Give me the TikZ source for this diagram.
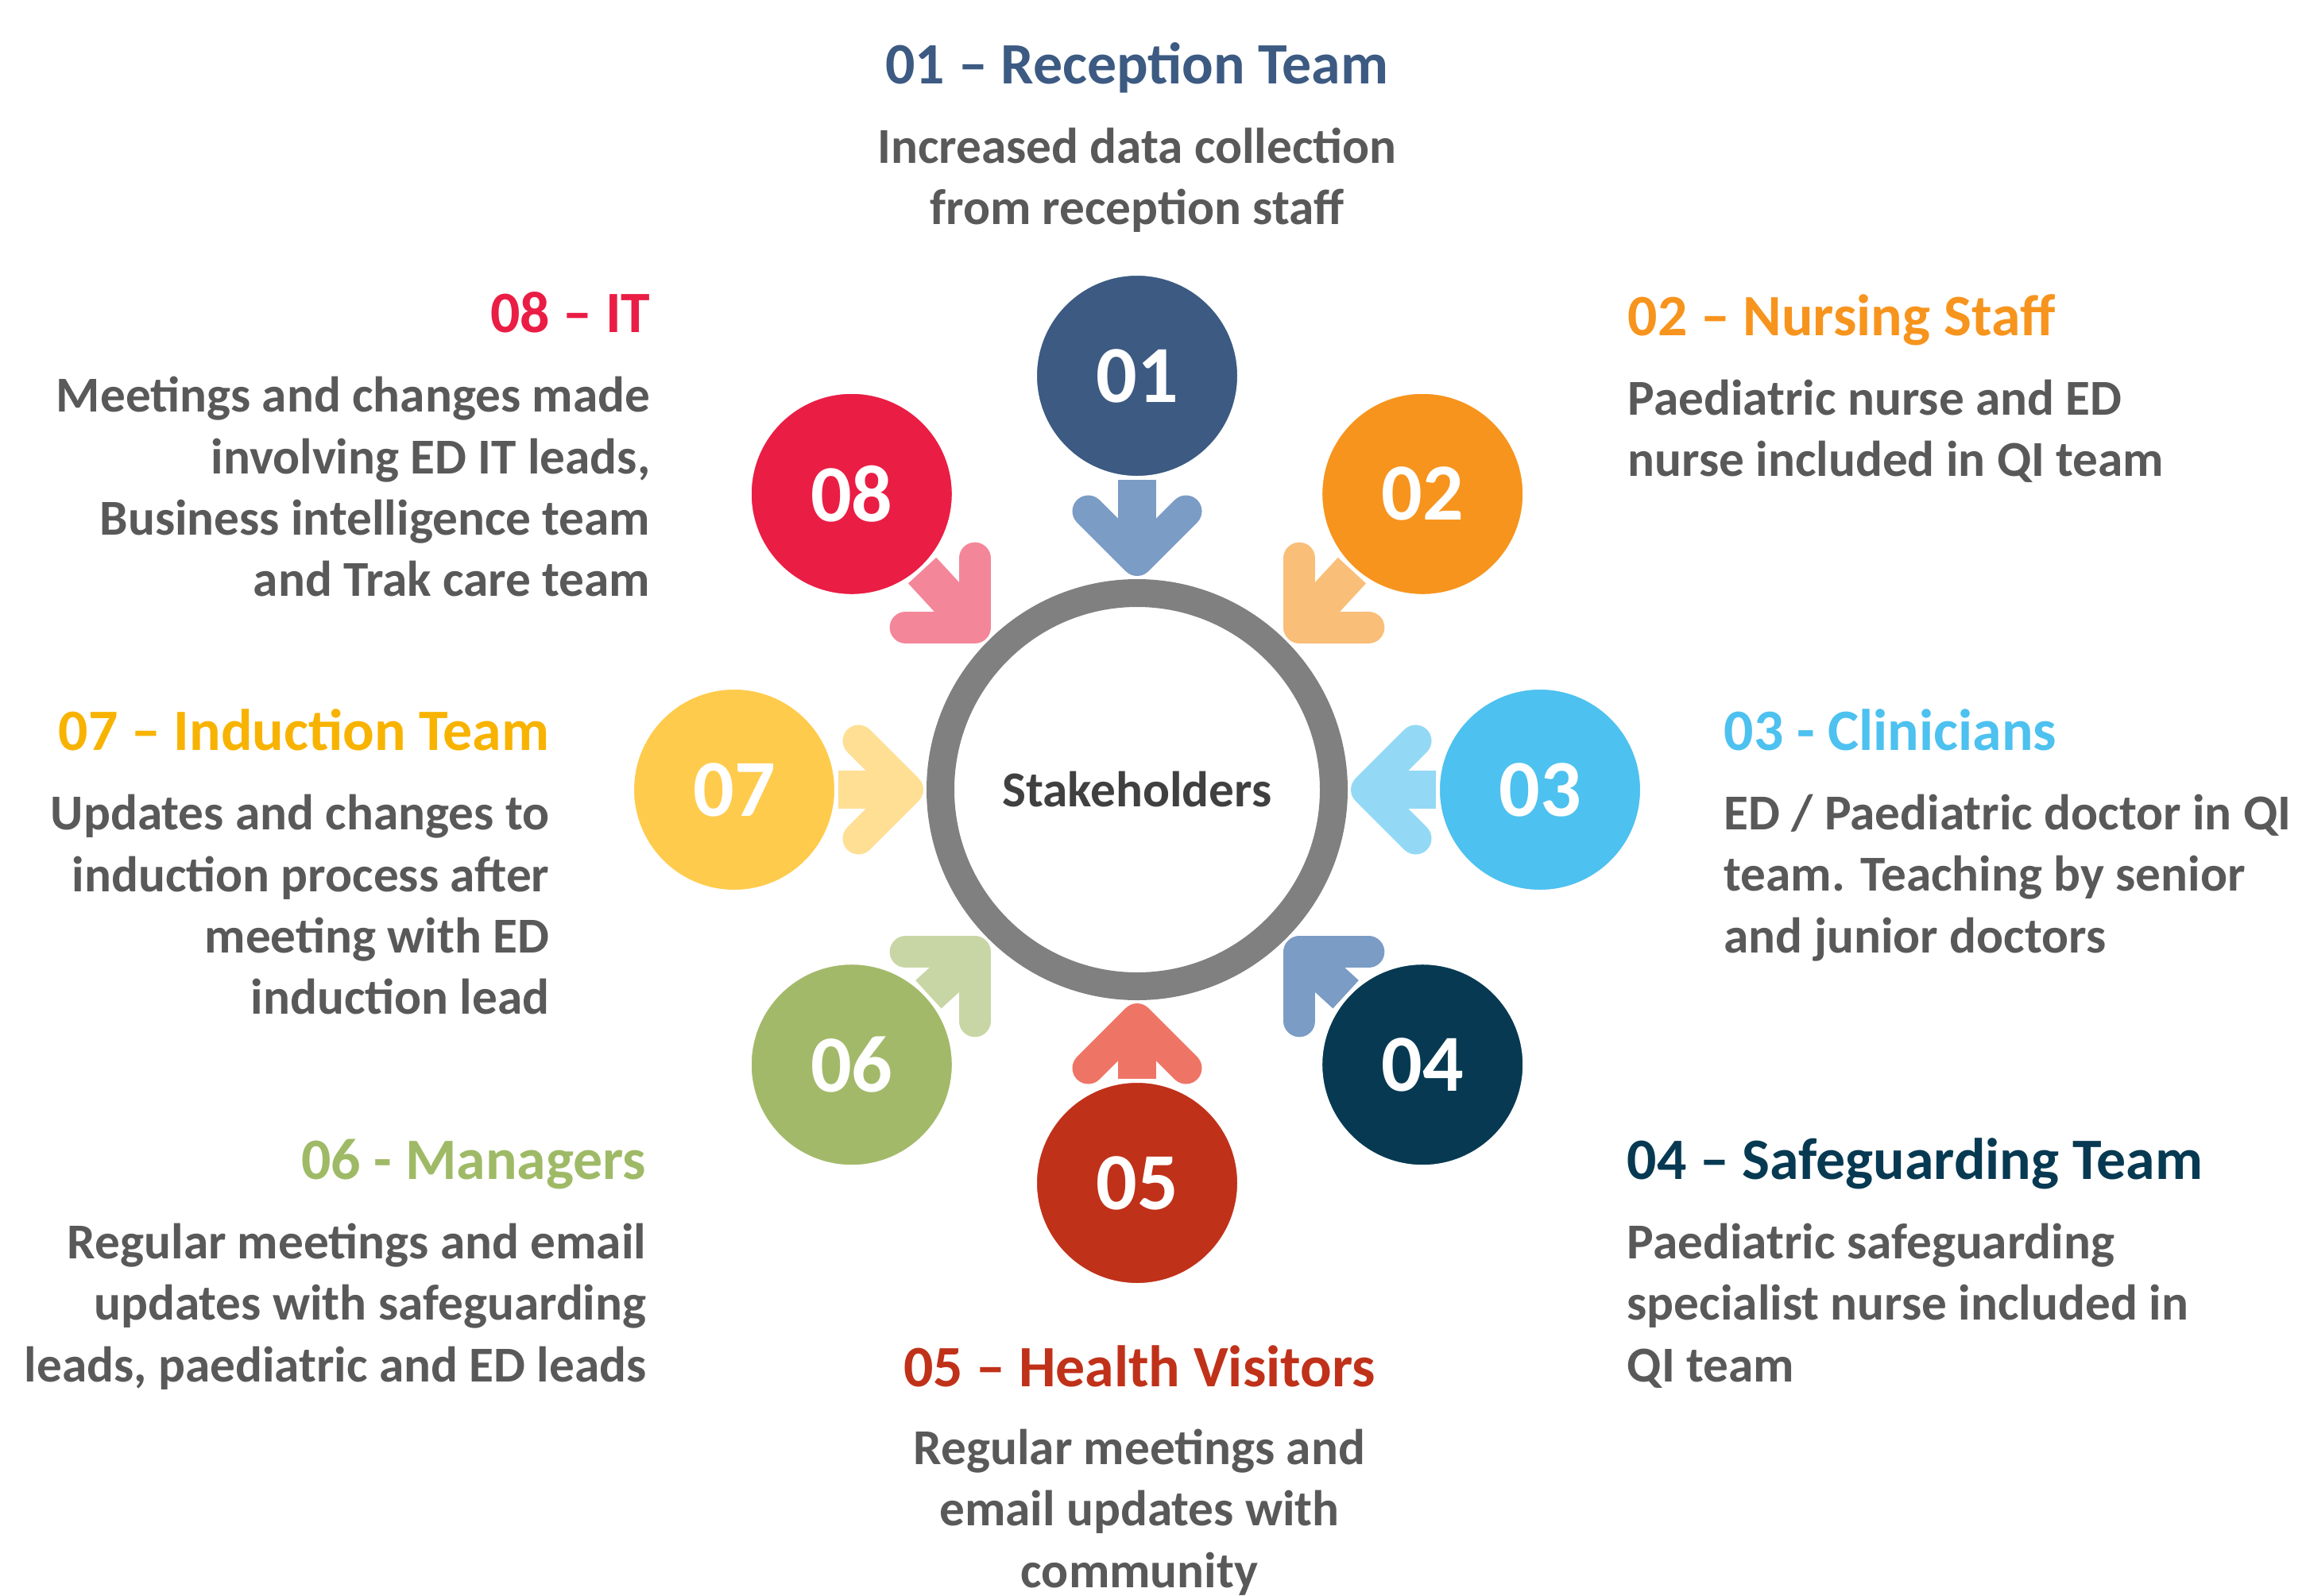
\documentclass[tikz,border=0pt]{standalone}
\usepackage{fontspec}
\setmainfont{Carlito}
\usepackage{tikz}
\usetikzlibrary{calc,positioning}

\definecolor{ringgray}{HTML}{808080}
\definecolor{txtgray}{HTML}{595959}
\definecolor{hubtext}{HTML}{404040}
\definecolor{col1}{HTML}{3C5A82}
\definecolor{col2}{HTML}{F7941D}
\definecolor{col3}{HTML}{4DC1EF}
\definecolor{col4}{HTML}{073A52}
\definecolor{col5}{HTML}{C0311A}
\definecolor{col6}{HTML}{A3B96A}
\definecolor{col7}{HTML}{FFCB4C}
\definecolor{col8}{HTML}{EA1D44}
\definecolor{arr1}{HTML}{7B9CC5}
\definecolor{arr2}{HTML}{F9BE78}
\definecolor{arr3}{HTML}{93D9F5}
\definecolor{arr4}{HTML}{7B9CC5}
\definecolor{arr5}{HTML}{EE7566}
\definecolor{arr6}{HTML}{C8D6A5}
\definecolor{arr7}{HTML}{FEDF94}
\definecolor{arr8}{HTML}{F48699}
\definecolor{ttl6}{HTML}{9FBA66}
\definecolor{ttl7}{HTML}{F8B300}

\tikzset{
  stake/.style={circle, minimum size=2.57cm, inner sep=0pt, draw=white, line width=0.05cm,
    font=\bfseries\fontsize{29}{29}\selectfont, text=white},
  ttl/.style={font=\bfseries\fontsize{21}{25}\selectfont, inner sep=0pt},
  txt/.style={font=\bfseries\fontsize{18}{22}\selectfont, text=txtgray, inner sep=0pt},
  shaft/.style={line width=0.48cm, line cap=butt},
  barbs/.style={line width=0.40cm, line cap=round, line join=round},
}

\begin{document}
\begin{tikzpicture}
    \useasboundingbox (-14.31,-10.14) rectangle (14.71,9.94);

    % centre ring
    \node[circle, draw=ringgray, line width=0.35cm, minimum size=4.95cm, inner sep=0pt,
      font=\bfseries\fontsize{18}{18}\selectfont, text=hubtext] (hub) at (0,0) {Stakeholders};

    % numbered circles
    \node[stake, fill=col1] (c1) at ([shift={(0,0.13)}]90:5.08) {01};
    \node[stake, fill=col2] (c2) at ([shift={(0,0.13)}]45:5.08) {02};
    \node[stake, fill=col3] (c3) at (5.07,0) {03};
    \node[stake, fill=col4] (c4) at ([shift={(0,0.13)}]-45:5.08) {04};
    \node[stake, fill=col5] (c5) at ([shift={(0,0.13)}]-90:5.08) {05};
    \node[stake, fill=col6] (c6) at ([shift={(0,0.13)}]-135:5.08) {06};
    \node[stake, fill=col7] (c7) at (-5.07,0) {07};
    \node[stake, fill=col8] (c8) at ([shift={(0,0.13)}]135:5.08) {08};

    % arrow tips on the ring
    \coordinate (p1) at (90:2.89);
    \coordinate (p2) at (45:2.89);
    \coordinate (p3) at (0:2.89);
    \coordinate (p4) at (-45:2.89);
    \coordinate (p5) at (-90:2.89);
    \coordinate (p6) at (-135:2.89);
    \coordinate (p7) at (180:2.89);
    \coordinate (p8) at (135:2.89);

    % arrows into the ring
    \draw[shaft, arr1] (c1) -- (p1);
    \draw[barbs, arr1] ($(p1)+(135:0.87)$) -- (p1) -- ($(p1)+(45:0.87)$);
    \draw[shaft, arr2] (c2) -- (p2);
    \draw[barbs, arr2] ($(p2)+(90:0.87)$) -- (p2) -- ($(p2)+(0:0.87)$);
    \draw[shaft, arr3] (c3) -- (p3);
    \draw[barbs, arr3] ($(p3)+(45:0.87)$) -- (p3) -- ($(p3)+(-45:0.87)$);
    \draw[shaft, arr4] (c4) -- (p4);
    \draw[barbs, arr4] ($(p4)+(0:0.87)$) -- (p4) -- ($(p4)+(-90:0.87)$);
    \draw[shaft, arr5] (c5) -- (p5);
    \draw[barbs, arr5] ($(p5)+(-45:0.87)$) -- (p5) -- ($(p5)+(-135:0.87)$);
    \draw[shaft, arr6] (c6) -- (p6);
    \draw[barbs, arr6] ($(p6)+(-90:0.87)$) -- (p6) -- ($(p6)+(180:0.87)$);
    \draw[shaft, arr7] (c7) -- (p7);
    \draw[barbs, arr7] ($(p7)+(-135:0.87)$) -- (p7) -- ($(p7)+(135:0.87)$);
    \draw[shaft, arr8] (c8) -- (p8);
    \draw[barbs, arr8] ($(p8)+(180:0.87)$) -- (p8) -- ($(p8)+(90:0.87)$);

    % 01 top
    \node[ttl, text=col1, anchor=base] (t1) at (0,8.89) {01 – Reception Team};
    \node[txt, align=center, anchor=base] (b1) at (0,7.114) {Increased data collection\\from reception staff};

    % 02 right
    \node[ttl, text=col2, anchor=base west] (t2) at (6.17,5.72) {02 – Nursing Staff};
    \node[txt, align=left, anchor=base west] (b2) at (6.17,3.944) {Paediatric nurse and ED\\nurse included in QI team};

    % 03 right
    \node[ttl, text=col3, anchor=base west] (t3) at (7.38,0.50) {03 - Clinicians};
    \node[txt, align=left, anchor=base west] (b3) at (7.38,-2.052) {ED / Paediatric doctor in QI\\team. Teaching by senior\\and junior doctors};

    % 04 right
    \node[ttl, text=col4, anchor=base west] (t4) at (6.16,-4.90) {04 – Safeguarding Team};
    \node[txt, align=left, anchor=base west] (b4) at (6.16,-7.452) {Paediatric safeguarding\\specialist nurse included in\\QI team};

    % 05 bottom
    \node[ttl, text=col5, anchor=base] (t5) at (0.03,-7.51) {05 – Health Visitors};
    \node[txt, align=center, anchor=base] (b5) at (0.03,-10.04) {Regular meetings and\\email updates with\\community};

    % 06 left
    \node[ttl, text=ttl6, anchor=base east] (t6) at (-6.17,-4.90) {06 - Managers};
    \node[txt, align=right, anchor=base east] (b6) at (-6.17,-7.452) {Regular meetings and email\\updates with safeguarding\\leads, paediatric and ED leads};

    % 07 left
    \node[ttl, text=ttl7, anchor=base east] (t7) at (-7.39,0.50) {07 – Induction Team};
    \node[txt, align=right, anchor=base east] (b7) at (-7.39,-2.828) {Updates and changes to\\induction process after\\meeting with ED\\induction lead};

    % 08 left
    \node[ttl, text=col8, anchor=base east] (t8) at (-6.12,5.76) {08 – IT};
    \node[txt, align=right, anchor=base east] (b8) at (-6.12,2.432) {Meetings and changes made\\involving ED IT leads,\\Business intelligence team\\and Trak care team};
\end{tikzpicture}
\end{document}
